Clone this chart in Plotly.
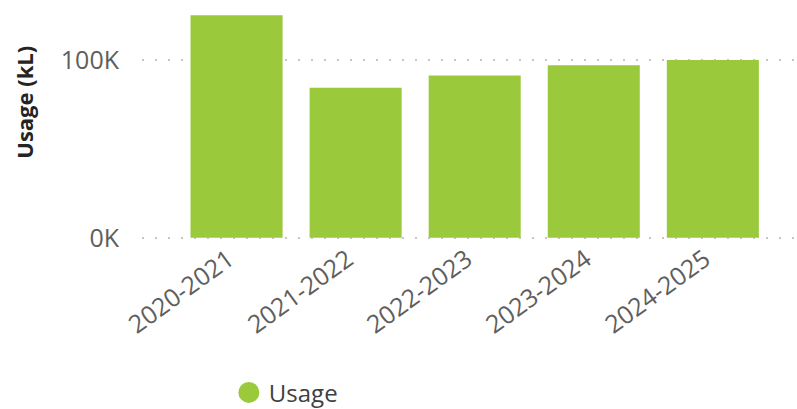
import plotly.graph_objects as go

categories = ["2020-2021", "2021-2022", "2022-2023", "2023-2024", "2024-2025"]
usage_kl = [125300, 84500, 91400, 97200, 100200]
y_tick_vals = [0, 100000]
y_tick_text = ["0K", "100K"]

BAR_COLOR = "#9BC93C"
TICK_COLOR = "#605E5C"
FONT = "Open Sans, Noto Sans, sans-serif"

fig = go.Figure()
fig.add_trace(go.Bar(
    x=categories, y=usage_kl, name="Usage",
    marker=dict(color=BAR_COLOR, line=dict(width=0)),
    showlegend=False,
))
# legend entry with a round marker
fig.add_trace(go.Scatter(
    x=[None], y=[None], mode="markers", name="Usage",
    marker=dict(color=BAR_COLOR, size=16, symbol="circle",
                line=dict(color=BAR_COLOR, width=8)),
    showlegend=True,
))

fig.update_layout(
    width=797, height=409,
    margin=dict(l=142, r=2, t=7, b=170, autoexpand=False),
    plot_bgcolor="white", paper_bgcolor="white",
    bargap=0.227,
    font=dict(family=FONT, color=TICK_COLOR),
    xaxis=dict(
        range=[-0.794, 4.69], showgrid=False, showline=False, zeroline=False,
        tickangle=-36, tickfont=dict(size=25, color=TICK_COLOR),
        ticks="", automargin=False, ticklabelshift=-8,
    ),
    yaxis=dict(
        range=[-700, 130000], tickvals=y_tick_vals, ticktext=y_tick_text,
        showgrid=True, gridcolor="#C8C6C4", gridwidth=1.5, griddash="2px,11px",
        zeroline=False, showline=False, ticks="",
        tickfont=dict(size=25, color=TICK_COLOR), ticklabelstandoff=22,
        automargin=False,
    ),
    legend=dict(
        orientation="h", x=0.133, xanchor="left", y=-0.663, yanchor="middle",
        font=dict(size=24, color="#404040"), itemwidth=30,
        bgcolor="rgba(0,0,0,0)", borderwidth=0, tracegroupgap=0,
    ),
    annotations=[dict(
        text="<b>Usage (kL)</b>", textangle=-90, showarrow=False,
        xref="paper", yref="paper", x=-0.182, y=0.588,
        xanchor="center", yanchor="middle",
        font=dict(size=22, color="#252423", family=FONT),
    )],
)

fig.write_html("out.html")
